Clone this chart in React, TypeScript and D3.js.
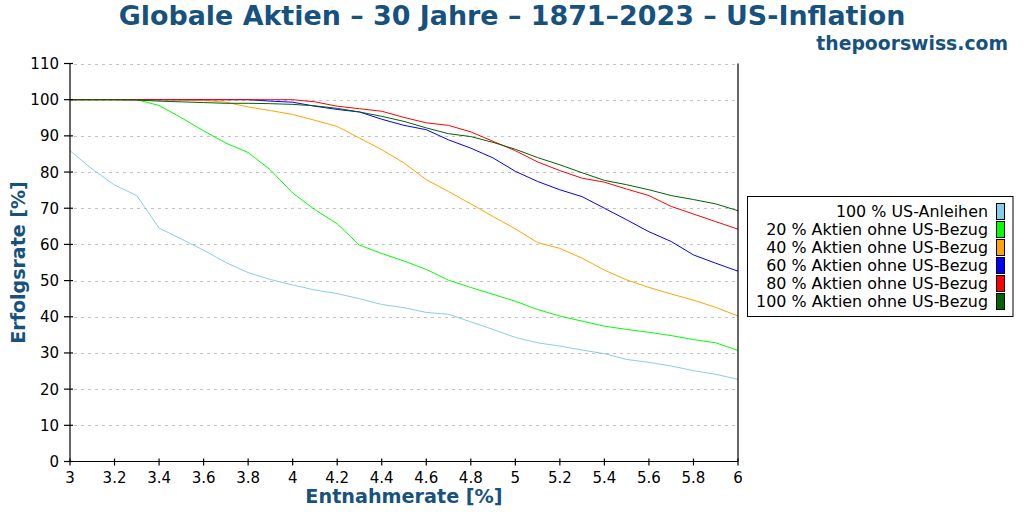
import React, { useRef, useEffect } from 'react';
import * as d3 from 'd3';

// Entnahmerate in % (x axis)
const rates = [
  3.0, 3.1, 3.2, 3.3, 3.4, 3.5, 3.6, 3.7, 3.8, 3.9,
  4.0, 4.1, 4.2, 4.3, 4.4, 4.5, 4.6, 4.7, 4.8, 4.9,
  5.0, 5.1, 5.2, 5.3, 5.4, 5.5, 5.6, 5.7, 5.8, 5.9, 6.0
];

// Erfolgsrate in % per portfolio
const usBonds = [
  85.9, 80.8, 76.4, 73.5, 64.5, 61.5, 58.4, 55.0, 52.2, 50.3,
  48.8, 47.4, 46.4, 45.0, 43.4, 42.5, 41.2, 40.7, 38.6, 36.5,
  34.3, 32.8, 31.9, 30.8, 29.8, 28.2, 27.4, 26.4, 25.1, 24.1, 22.7
];
const stocks20 = [
  100, 100, 100, 100, 98.4, 95.0, 91.4, 88.0, 85.4, 80.6,
  74.2, 69.6, 65.7, 59.8, 57.5, 55.4, 53.1, 50.1, 48.1, 46.2,
  44.3, 42.0, 40.2, 38.8, 37.4, 36.5, 35.7, 34.8, 33.7, 32.8, 30.7
];
const stocks40 = [
  100, 100, 100, 100, 100, 99.9, 99.8, 99.3, 98.0, 97.0,
  95.9, 94.3, 92.6, 89.4, 86.2, 82.5, 77.9, 74.6, 71.2, 67.7,
  64.3, 60.5, 58.9, 56.2, 52.9, 50.2, 48.1, 46.3, 44.6, 42.6, 40.2
];
const stocks60 = [
  100, 100, 100, 100, 100, 100, 100, 100, 100, 99.6,
  99.3, 98.2, 97.3, 96.6, 94.6, 92.9, 91.7, 88.9, 86.6, 83.9,
  80.2, 77.4, 75.1, 73.2, 70.0, 66.8, 63.5, 60.8, 57.1, 54.8, 52.6
];
const stocks80 = [
  100, 100, 100, 100, 100, 100, 100, 100, 100, 100,
  100, 99.4, 98.2, 97.5, 96.8, 95.1, 93.6, 92.9, 91.1, 88.5,
  85.9, 82.8, 80.4, 78.3, 77.2, 75.3, 73.5, 70.5, 68.4, 66.3, 64.2
];
const stocks100 = [
  100, 100, 100, 99.9, 99.6, 99.4, 99.2, 99.0, 99.0, 98.9,
  98.7, 98.3, 97.6, 96.6, 95.4, 94.0, 92.2, 90.6, 89.8, 88.2,
  86.3, 84.0, 82.0, 79.8, 77.7, 76.5, 75.1, 73.5, 72.4, 71.2, 69.3
];

const seriesNames = [
  '100 % US-Anleihen',
  '20 % Aktien ohne US-Bezug',
  '40 % Aktien ohne US-Bezug',
  '60 % Aktien ohne US-Bezug',
  '80 % Aktien ohne US-Bezug',
  '100 % Aktien ohne US-Bezug'
];
const seriesColors = ['#87ceeb', '#00ff00', '#ffa500', '#0000ff', '#ff0000', '#006400'];
const seriesValues = [usBonds, stocks20, stocks40, stocks60, stocks80, stocks100];

const xTicks = [3, 3.2, 3.4, 3.6, 3.8, 4, 4.2, 4.4, 4.6, 4.8, 5, 5.2, 5.4, 5.6, 5.8, 6];
const yTicks = [0, 10, 20, 30, 40, 50, 60, 70, 80, 90, 100, 110];

const WIDTH = 1024;
const HEIGHT = 512;
const FONT = "'DejaVu Sans', sans-serif";
const BLUE = '#17527f';

const App = () => {
  const ref = useRef<SVGSVGElement>(null);

  useEffect(() => {
    const svg = d3.select(ref.current);
    svg.selectAll('*').remove();

    const left = 70, right = 738, top = 63.5, bottom = 461.5;

    const x = d3.scaleLinear().domain([3, 6]).range([left, right]);
    const y = d3.scaleLinear().domain([0, 110]).range([bottom, top]);

    svg.append('rect').attr('width', WIDTH).attr('height', HEIGHT).attr('fill', '#fff');

    // Title and source
    svg.append('text')
      .attr('x', 512).attr('y', 25)
      .attr('text-anchor', 'middle')
      .style('font-family', FONT).style('font-weight', 'bold').style('font-size', '26.9px')
      .attr('fill', BLUE)
      .text('Globale Aktien – 30 Jahre – 1871–2023 – US-Inflation');

    svg.append('text')
      .attr('x', 1008).attr('y', 50)
      .attr('text-anchor', 'end')
      .style('font-family', FONT).style('font-weight', 'bold').style('font-size', '18.8px')
      .attr('fill', BLUE)
      .text('thepoorswiss.com');

    // Grid
    svg.append('g')
      .selectAll('line')
      .data(yTicks.filter(d => d > 0))
      .join('line')
      .attr('x1', left + 4).attr('x2', right)
      .attr('y1', d => Math.round(y(d)) + 0.5).attr('y2', d => Math.round(y(d)) + 0.5)
      .attr('stroke', '#c4c4c4').attr('stroke-width', 1)
      .attr('stroke-dasharray', '3,4');

    // Series lines
    const line = d3.line<number>()
      .x((_, i) => x(rates[i]))
      .y(d => y(d));

    svg.append('g')
      .selectAll('path')
      .data(seriesValues)
      .join('path')
      .attr('d', d => line(d))
      .attr('fill', 'none')
      .attr('stroke', (_, i) => seriesColors[i])
      .attr('stroke-width', 1);

    // Axes
    const axes = svg.append('g').attr('stroke', '#000').attr('stroke-width', 1.2);
    axes.append('line').attr('x1', left).attr('x2', left).attr('y1', top).attr('y2', bottom);
    axes.append('line').attr('x1', right).attr('x2', right).attr('y1', top).attr('y2', bottom);
    axes.append('line').attr('x1', left).attr('x2', right).attr('y1', bottom).attr('y2', bottom);

    axes.selectAll('.ytick')
      .data(yTicks)
      .join('line')
      .attr('class', 'ytick')
      .attr('x1', left - 6).attr('x2', left + 3)
      .attr('y1', d => y(d)).attr('y2', d => y(d));

    axes.selectAll('.xtick')
      .data(xTicks)
      .join('line')
      .attr('class', 'xtick')
      .attr('x1', d => x(d)).attr('x2', d => x(d))
      .attr('y1', bottom - 3).attr('y2', bottom + 4);

    svg.append('g')
      .selectAll('text')
      .data(yTicks)
      .join('text')
      .attr('x', left - 11).attr('y', d => y(d) + 5.5)
      .attr('text-anchor', 'end')
      .style('font-family', FONT).style('font-size', '15px')
      .text(d => String(d));

    svg.append('g')
      .selectAll('text')
      .data(xTicks)
      .join('text')
      .attr('x', d => x(d)).attr('y', bottom + 21)
      .attr('text-anchor', 'middle')
      .style('font-family', FONT).style('font-size', '15px')
      .text(d => d3.format('~g')(d));

    // Axis titles
    svg.append('text')
      .attr('x', (left + right) / 2).attr('y', 503)
      .attr('text-anchor', 'middle')
      .style('font-family', FONT).style('font-weight', 'bold').style('font-size', '19.2px')
      .attr('fill', BLUE)
      .text('Entnahmerate [%]');

    svg.append('text')
      .attr('transform', `translate(25, ${(top + bottom) / 2}) rotate(-90)`)
      .attr('text-anchor', 'middle')
      .style('font-family', FONT).style('font-weight', 'bold').style('font-size', '19px')
      .attr('fill', BLUE)
      .text('Erfolgsrate [%]');

    // Legend
    const legend = svg.append('g');
    legend.append('rect')
      .attr('x', 747.5).attr('y', 196.5)
      .attr('width', 265.5).attr('height', 120)
      .attr('fill', '#fff').attr('stroke', '#000').attr('stroke-width', 1);

    const rows = legend.selectAll('g.row')
      .data(seriesNames)
      .join('g')
      .attr('class', 'row')
      .attr('transform', (_, i) => `translate(0, ${i * 18})`);

    rows.append('rect')
      .attr('x', 996.5).attr('y', 203.5)
      .attr('width', 8).attr('height', 16)
      .attr('fill', (_, i) => seriesColors[i])
      .attr('stroke', '#000').attr('stroke-width', 1);

    rows.append('text')
      .attr('x', 988).attr('y', 217)
      .attr('text-anchor', 'end')
      .style('font-family', FONT).style('font-size', '15.9px')
      .text(d => d);
  }, []);

  return (
    <svg
      ref={ref}
      width={WIDTH}
      height={HEIGHT}
      style={{ position: 'absolute', left: 0, top: 0, display: 'block' }}
    />
  );
};

export default App;
